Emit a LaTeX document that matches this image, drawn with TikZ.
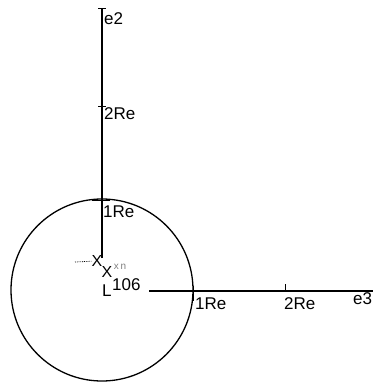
\documentclass[tikz,border=0pt]{standalone}
\usepackage{fontspec}
\setmainfont{Liberation Sans}
\usepackage{tikz}

\begin{document}
\begin{tikzpicture}[x=1pt,y=-1pt,
	lbl/.style={inner sep=0pt,anchor=west,font=\fontsize{17}{19}\selectfont},
	axis/.style={line width=1.7pt}]
\useasboundingbox (0,0) rectangle (377,388);
%
	\coordinate (O) at (102,290);
	\coordinate (top) at (102,8);
	\coordinate (bot) at (102,258);
	\coordinate (hstart) at (149,291);
	\coordinate (hend) at (373,291);
	\draw[axis] (bot) -- (top);
	\draw[axis] (hstart) -- (hend);
	\draw[line width=1.3pt] (O) circle (91);
%
	\draw[thick] (98,8) -- (106,8);
	\draw[thick] (98,106) -- (106,106);
	\draw[thick] (92,200) -- (110,200);
	\draw[thick] (193,286) -- (193,301);
	\draw[thick] (285,284) -- (285,291);
%
	\node[lbl] (e2) at (104,19) {e2};
	\node[lbl] (v2) at (104,114) {2Re};
	\node[lbl] (v1) at (103,212) {1Re};
	\node[lbl] (h1) at (195,304) {1Re};
	\node[lbl] (h2) at (284,304) {2Re};
	\node[lbl] (e3) at (353,299) {e3};
	\node[lbl] (num) at (112,285) {106};
	\node[lbl] (ell) at (102,291) {L};
%
	\coordinate (dot) at (75,262);
	\node[inner sep=0pt,font=\fontsize{16}{18}\selectfont] (x1) at (97,261) {X};
	\node[inner sep=0pt,font=\fontsize{16}{18}\selectfont] (x2) at (107,272) {X};
	\node[inner sep=0pt,font=\fontsize{10}{11}\selectfont,gray] (xn) at (120,267) {x\,n};
	\draw[densely dotted,thick] (dot) -- (x1);
\end{tikzpicture}
\end{document}
